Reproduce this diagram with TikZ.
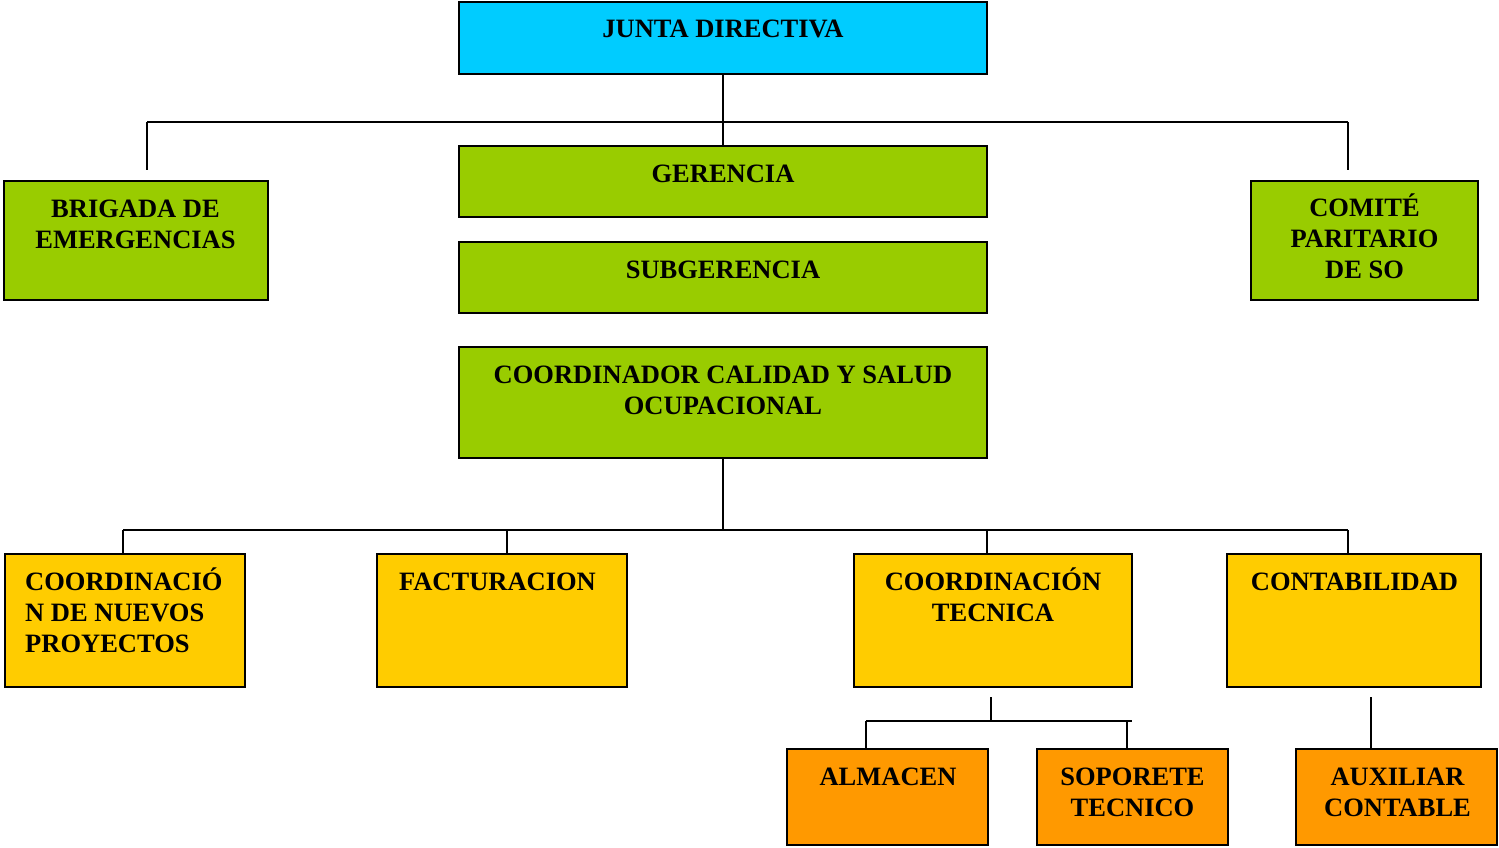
\documentclass[tikz,border=0pt]{standalone}
\usepackage{fontspec}
\setmainfont{Liberation Serif}
\definecolor{jcyan}{HTML}{00CCFF}
\definecolor{jgreen}{HTML}{99CC00}
\definecolor{jyellow}{HTML}{FFCC00}
\definecolor{jorange}{HTML}{FF9900}
\newcommand{\fl}{\rule{0pt}{26pt}}
\begin{document}
\begin{tikzpicture}[x=1pt,y=-1pt,
  box/.style={draw=black, line width=1.6pt, inner sep=0pt},
  lbl/.style={font=\fontsize{26.5}{31}\selectfont\bfseries, align=center, inner sep=0pt, anchor=north},
  conn/.style={line width=1.5pt}]
\useasboundingbox (0,0) rectangle (1499,847);
% boxes
\node[box, fill=jcyan, minimum width=528pt, minimum height=72pt] (jd) at (723,38) {};
\node[box, fill=jgreen, minimum width=528pt, minimum height=71pt] (ger) at (723,181.5) {};
\node[box, fill=jgreen, minimum width=528pt, minimum height=71pt] (sub) at (723,277.5) {};
\node[box, fill=jgreen, minimum width=528pt, minimum height=111pt] (coo) at (723,402.5) {};
\node[box, fill=jgreen, minimum width=264pt, minimum height=119pt] (brg) at (136,240.5) {};
\node[box, fill=jgreen, minimum width=227pt, minimum height=119pt] (com) at (1364.5,240.5) {};
\node[box, fill=jyellow, minimum width=240pt, minimum height=133pt] (cnp) at (125,620.5) {};
\node[box, fill=jyellow, minimum width=250pt, minimum height=133pt] (fac) at (502,620.5) {};
\node[box, fill=jyellow, minimum width=278pt, minimum height=133pt] (ctc) at (993,620.5) {};
\node[box, fill=jyellow, minimum width=254pt, minimum height=133pt] (cnt) at (1354,620.5) {};
\node[box, fill=jorange, minimum width=201pt, minimum height=96pt] (alm) at (887.5,797) {};
\node[box, fill=jorange, minimum width=191pt, minimum height=96pt] (sop) at (1132.5,797) {};
\node[box, fill=jorange, minimum width=201pt, minimum height=96pt] (aux) at (1396.5,797) {};
% labels (first baseline = rule top + 26)
\node[lbl] (jdt) at (723,11) {\fl JUNTA DIRECTIVA};
\node[lbl] (gert) at (723,156) {\fl GERENCIA};
\node[lbl] (subt) at (723,252) {\fl SUBGERENCIA};
\node[lbl] (coot) at (723,357) {\fl COORDINADOR CALIDAD Y SALUD\\OCUPACIONAL};
\node[lbl] (brgt) at (135.5,191) {\fl BRIGADA DE\\EMERGENCIAS};
\node[lbl] (comt) at (1364.5,190) {\fl COMITÉ\\PARITARIO\\DE SO};
\node[lbl, align=left, anchor=north west] (cnpt) at (25,564) {\fl COORDINACIÓ\\N DE NUEVOS\\PROYECTOS};
\node[lbl] (fact) at (497.5,564) {\fl FACTURACION};
\node[lbl] (ctct) at (993,564) {\fl COORDINACIÓN\\TECNICA};
\node[lbl] (cntt) at (1354.5,564) {\fl CONTABILIDAD};
\node[lbl] (almt) at (888,759.5) {\fl ALMACEN};
\node[lbl] (sopt) at (1132.5,759.5) {\fl SOPORETE\\TECNICO};
\node[lbl] (auxt) at (1397.5,759.5) {\fl AUXILIAR\\CONTABLE};
% connectors top
\draw[conn] (jd.south) -- (ger.north);
\coordinate (t1L) at (147,122);
\coordinate (t1R) at (1348,122);
\coordinate (t1Le) at (147,170);
\coordinate (t1Re) at (1348,170);
\draw[conn] (t1L) -- (t1R);
\draw[conn] (t1L) -- (t1Le);
\draw[conn] (t1R) -- (t1Re);
% connectors middle
\coordinate (t2C) at (723,530);
\coordinate (t2L) at (123,530);
\coordinate (t2R) at (1348,530);
\coordinate (t2F) at (507,530);
\coordinate (t2T) at (987,530);
\draw[conn] (coo.south) -- (t2C);
\draw[conn] (t2L) -- (t2R);
\draw[conn] (t2L) -- (t2L |- cnp.north);
\draw[conn] (t2F) -- (t2F |- fac.north);
\draw[conn] (t2T) -- (t2T |- ctc.north);
\draw[conn] (t2R) -- (t2R |- cnt.north);
% connectors bottom
\coordinate (t3a) at (991,697);
\coordinate (t3b) at (991,721);
\coordinate (t3L) at (866,721);
\coordinate (t3R) at (1132,721);
\coordinate (t3S) at (1127,721);
\draw[conn] (t3a) -- (t3b);
\draw[conn] (t3L) -- (t3R);
\draw[conn] (t3L) -- (t3L |- alm.north);
\draw[conn] (t3S) -- (t3S |- sop.north);
\coordinate (t4) at (1371,697);
\draw[conn] (t4) -- (t4 |- aux.north);
\end{tikzpicture}
\end{document}
